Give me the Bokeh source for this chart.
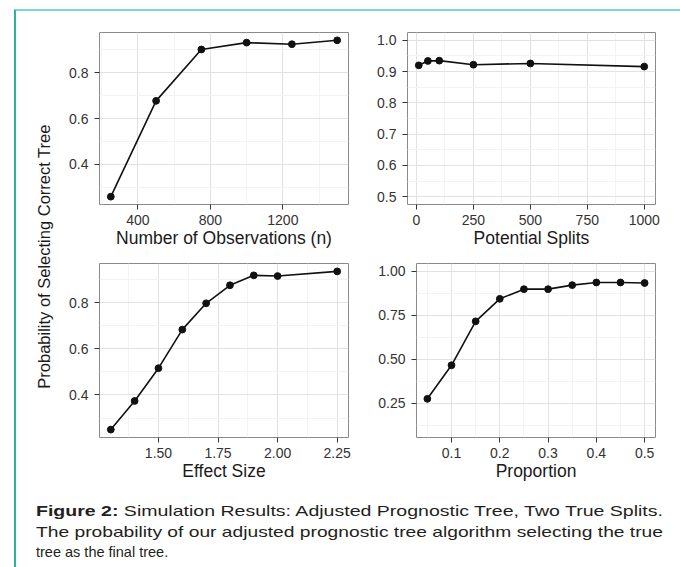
import math
from bokeh.plotting import figure
from bokeh.models import Range1d, FixedTicker, Label, Div
from bokeh.layouts import row, column
from bokeh.embed import file_html
from bokeh.resources import INLINE

# ---------------- data ----------------
n_obs = [250, 500, 750, 1000, 1250, 1500]
p_obs = [0.259, 0.677, 0.901, 0.931, 0.924, 0.941]

splits = [10, 50, 100, 250, 500, 1000]
p_splits = [0.920, 0.934, 0.935, 0.922, 0.926, 0.916]

effect = [1.3, 1.4, 1.5, 1.6, 1.7, 1.8, 1.9, 2.0, 2.25]
p_effect = [0.250, 0.374, 0.516, 0.683, 0.797, 0.875, 0.918, 0.915, 0.935]

proportion = [0.05, 0.10, 0.15, 0.20, 0.25, 0.30, 0.35, 0.40, 0.45, 0.50]
p_prop = [0.275, 0.466, 0.716, 0.844, 0.899, 0.899, 0.922, 0.937, 0.937, 0.934]

obs_ticks = [400, 800, 1200]
obs_tick_labels = ["400", "800", "1200"]
prob_ticks = [0.4, 0.6, 0.8]
prob_tick_labels = ["0.4", "0.6", "0.8"]
split_ticks = [0, 250, 500, 750, 1000]
split_tick_labels = ["0", "250", "500", "750", "1000"]
split_prob_ticks = [0.5, 0.6, 0.7, 0.8, 0.9, 1.0]
split_prob_tick_labels = ["0.5", "0.6", "0.7", "0.8", "0.9", "1.0"]
split_prob_limits = [0.5, 1.0]
effect_ticks = [1.5, 1.75, 2.0, 2.25]
effect_tick_labels = ["1.50", "1.75", "2.00", "2.25"]
prop_ticks = [0.1, 0.2, 0.3, 0.4, 0.5]
prop_tick_labels = ["0.1", "0.2", "0.3", "0.4", "0.5"]
prop_prob_ticks = [0.25, 0.5, 0.75, 1.0]
prop_prob_tick_labels = ["0.25", "0.50", "0.75", "1.00"]
prop_prob_limits = [0.1, 1.0]

y_title = "Probability of Selecting Correct Tree"
x_titles = ["Number of Observations (n)", "Potential Splits", "Effect Size", "Proportion"]

caption_bold = "Figure 2:"
caption_lines = [
    "Simulation Results: Adjusted Prognostic Tree, Two True Splits.",
    "The probability of our adjusted prognostic tree algorithm selecting the true",
    "tree as the final tree.",
]

FONT = "Liberation Sans"


def expand(lo, hi, f=0.05):
    s = hi - lo
    return Range1d(lo - f * s, hi + f * s)


def minor_of(ticks, rng):
    step = ticks[1] - ticks[0]
    cand = [ticks[0] - step / 2] + [t + step / 2 for t in ticks]
    return [c for c in cand if rng.start <= c <= rng.end]


def panel(xs, ys, xr, yr, xt, xtl, yt, ytl, xlabel, fw, fh, ml, mr, mt, mb):
    p = figure(width=ml + fw + mr, height=mt + fh + mb, x_range=xr, y_range=yr,
               output_backend="svg", toolbar_location=None,
               min_border_left=ml, min_border_right=mr,
               min_border_top=mt, min_border_bottom=mb)
    p.background_fill_color = "white"
    p.border_fill_color = "white"
    p.outline_line_color = "#8a8a8a"
    p.outline_line_width = 1
    p.xaxis.ticker = FixedTicker(ticks=xt, minor_ticks=minor_of(xt, xr))
    p.yaxis.ticker = FixedTicker(ticks=yt, minor_ticks=minor_of(yt, yr))
    p.xaxis.major_label_overrides = {t: l for t, l in zip(xt, xtl)}
    p.yaxis.major_label_overrides = {t: l for t, l in zip(yt, ytl)}
    for ax in (p.xaxis, p.yaxis):
        ax.axis_line_color = None
        ax.major_tick_out = 5
        ax.major_tick_in = 0
        ax.minor_tick_out = 0
        ax.minor_tick_in = 0
        ax.major_tick_line_color = "#333333"
        ax.major_tick_line_width = 1
        ax.major_label_text_font = FONT
        ax.major_label_text_font_size = "14px"
        ax.major_label_text_color = "#333333"
    p.xaxis.major_label_standoff = 5
    p.yaxis.major_label_standoff = 6
    p.xaxis.axis_label = xlabel
    p.xaxis.axis_label_text_font = FONT
    p.xaxis.axis_label_text_font_size = "17.5px"
    p.xaxis.axis_label_text_font_style = "normal"
    p.xaxis.axis_label_text_color = "#1a1a1a"
    p.xaxis.axis_label_standoff = 0
    for g in (p.xgrid, p.ygrid):
        g.grid_line_color = "#e2e2e2"
        g.grid_line_width = 1
        g.minor_grid_line_color = "#f3f3f3"
        g.minor_grid_line_width = 1
    p.line(xs, ys, line_color="#111111", line_width=1.6)
    p.scatter(xs, ys, size=6.8, color="#111111")
    return p


# ranges (ggplot-like 5% expansion)
r1x = expand(min(n_obs), max(n_obs)); r1y = expand(min(p_obs), max(p_obs))
r2x = expand(min(splits), max(splits)); r2y = expand(*split_prob_limits)
r3x = expand(min(effect), max(effect)); r3y = expand(min(p_effect), max(p_effect))
r4x = expand(min(proportion), max(proportion)); r4y = expand(*prop_prob_limits)

TOP_MT, TOP_FH, TOP_MB = 21, 172, 48
BOT_MT, BOT_FH, BOT_MB = 11, 174, 51

p1 = panel(n_obs, p_obs, r1x, r1y, obs_ticks, obs_tick_labels, prob_ticks, prob_tick_labels,
           x_titles[0], 249, TOP_FH, 39, 22, TOP_MT, TOP_MB)
p2 = panel(splits, p_splits, r2x, r2y, split_ticks, split_tick_labels, split_prob_ticks,
           split_prob_tick_labels, x_titles[1], 248, TOP_FH, 37, 20, TOP_MT, TOP_MB)
p3 = panel(effect, p_effect, r3x, r3y, effect_ticks, effect_tick_labels, prob_ticks, prob_tick_labels,
           x_titles[2], 249, BOT_FH, 39, 22, BOT_MT, BOT_MB)
p4 = panel(proportion, p_prop, r4x, r4y, prop_ticks, prop_tick_labels, prop_prob_ticks,
           prop_prob_tick_labels, x_titles[3], 239, BOT_FH, 46, 20, BOT_MT, BOT_MB)

# y-axis title figure
LW = 44
LH = (TOP_MT + TOP_FH + TOP_MB) + (BOT_MT + BOT_FH + BOT_MB)
pl = figure(width=LW, height=LH, x_range=Range1d(0, LW), y_range=Range1d(0, LH),
            output_backend="svg", toolbar_location=None,
            min_border=0, min_border_left=0, min_border_right=0, min_border_top=0, min_border_bottom=0)
pl.axis.visible = False
pl.grid.visible = False
pl.outline_line_color = None
pl.border_fill_color = "white"
pl.background_fill_color = "white"
pl.add_layout(Label(x=27, y=LH - 245, text=y_title, angle=math.pi / 2,
                    text_align="center", text_baseline="middle",
                    text_font=FONT, text_font_size="16.5px", text_color="#1a1a1a"))

# caption: first two lines stretched to the full justified width (as in the PDF)
ff = "Liberation Sans, Arial, sans-serif"
caption_html = (
    '<svg xmlns="http://www.w3.org/2000/svg" width="659" height="80" style="display:block">'
    f'<text x="15" y="23" textLength="627" lengthAdjust="spacingAndGlyphs" '
    f'font-family="{ff}" font-size="14.5" fill="#231f20">'
    f'<tspan font-weight="bold">{caption_bold}</tspan> {caption_lines[0]}</text>'
    f'<text x="15" y="43.5" textLength="627" lengthAdjust="spacingAndGlyphs" '
    f'font-family="{ff}" font-size="14.5" fill="#231f20">{caption_lines[1]}</text>'
    f'<text x="15" y="64" font-family="{ff}" font-size="14.5" fill="#231f20">{caption_lines[2]}</text>'
    '</svg>'
)
caption = Div(text=caption_html, width=659, height=80)

grid = column(row(p1, p2), row(p3, p4))
top = row(pl, grid)
layout = column(top, caption,
                styles={"margin-left": "14px", "margin-top": "9px",
                        "border-left": "2px solid #2ab396",
                        "border-top": "2px solid #7fd8c9",
                        "border-right": "2px solid #72d4c4",
                        "border-bottom": "2px solid #72d4c4",
                        "background": "white"})

html = file_html(layout, INLINE, title="Figure 2")
open("out.html", "w").write(html)
